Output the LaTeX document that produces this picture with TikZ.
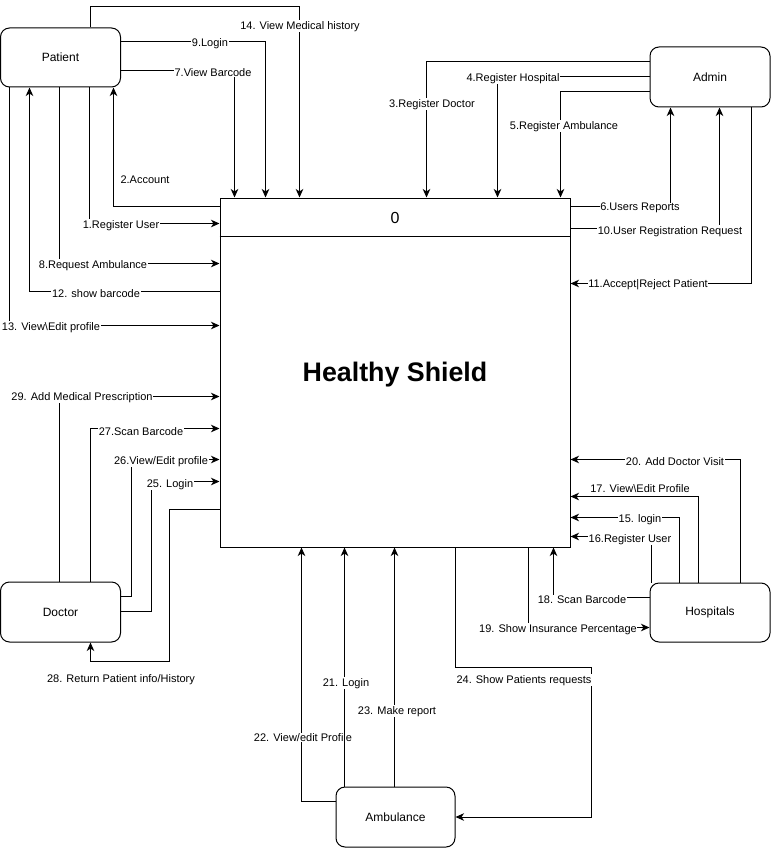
\documentclass[tikz,border=0pt]{standalone}
\usepackage{fontspec}
\setmainfont{Liberation Sans}
\usetikzlibrary{arrows.meta,calc}
\begin{document}
\begin{tikzpicture}[x=1pt,y=-1pt,
  ent/.style={draw, line width=1pt, rounded corners=9pt, minimum width=120pt, minimum height=60pt, inner sep=0pt, font=\fontsize{12pt}{14pt}\selectfont},
  flow/.style={line width=1pt, -{Stealth[length=8.5pt,width=7.5pt,inset=2.5pt]}},
  plain/.style={line width=1pt},
  lbl/.style={fill=white, inner sep=0.6pt, yshift=-1.2pt, font=\fontsize{11pt}{13pt}\selectfont}
]
\useasboundingbox (0,0) rectangle (771,848);

% main process
\node[draw, line width=1pt, minimum width=350pt, minimum height=349pt, inner sep=0pt] (main) at (395,372.5) {};
\draw[plain] ($(main.north west)+(0,39)$) -- ($(main.north east)+(0,39)$);
\node[font=\fontsize{16pt}{18pt}\selectfont] (zero) at (395,217.5) {0};
\node[font=\bfseries\fontsize{26.8pt}{30pt}\selectfont] (title) at (395,374.5) {Healthy Shield};

% entities
\node[ent, minimum height=59pt, text depth=0pt] (patient) at (60.5,57.5) {Patient};
\node[ent] (admin) at (710,77) {Admin};
\node[ent, minimum height=59pt] (hosp) at (710,612.5) {Hospitals};
\node[ent, minimum width=119pt] (amb) at (395.5,817) {Ambulance};
\node[ent] (doctor) at (60.5,612) {Doctor};

% Patient flows
\draw[flow] ($(patient.north west)+(90,0)$) -- ++(0,-21) -| ($(main.north west)+(80,0)$);
\node[lbl] (l14) at (300,25) {14. View Medical history};
\draw[flow] ($(patient.north east)+(0,14)$) -| ($(main.north west)+(46,0)$);
\node[lbl] (l9) at (210,42) {9.Login};
\draw[flow] ($(patient.north east)+(0,43)$) -| ($(main.north west)+(15,0)$);
\node[lbl] (l7) at (213,71) {7.View Barcode};
\draw[flow] ($(main.north west)+(0,9)$) -| ($(patient.south west)+(113.5,0)$);
\node[lbl] (l2) at (145,179) {2.Account};
\draw[flow] ($(patient.south west)+(89.5,0)$) |- ($(main.north west)+(0,26)$);
\node[lbl] (l1) at (121,224) {1.Register User};
\draw[flow] ($(patient.south west)+(59.5,0)$) |- ($(main.north west)+(0,66)$);
\node[lbl] (l8) at (93,264) {8.Request Ambulance};
\draw[flow] ($(main.north west)+(0,94)$) -| ($(patient.south west)+(29.5,0)$);
\node[lbl] (l12) at (96,292) {12. show barcode};
\draw[flow] ($(patient.south west)+(9.5,0)$) |- ($(main.north west)+(0,128)$);
\node[lbl] (l13) at (51,326) {13. View\textbackslash Edit profile};

% Admin flows
\draw[flow] ($(admin.north west)+(0,15)$) -| ($(main.north west)+(207,0)$);
\node[lbl] (l3) at (432,103) {3.Register Doctor};
\draw[flow] ($(admin.north west)+(0,30)$) -| ($(main.north west)+(278,0)$);
\node[lbl] (l4) at (513,77) {4.Register Hospital};
\draw[flow] ($(admin.north west)+(0,45)$) -| ($(main.north west)+(341,0)$);
\node[lbl] (l5) at (564,125) {5.Register Ambulance};
\draw[flow] ($(main.north east)+(0,9)$) -| ($(admin.south west)+(21,0)$);
\node[lbl] (l6) at (640,207) {6.Users Reports};
\draw[flow] ($(main.north east)+(0,31)$) -| ($(admin.south west)+(70,0)$);
\node[lbl] (l10) at (670,230) {10.User Registration Request};
\draw[flow] ($(admin.south west)+(102,0)$) |- ($(main.north east)+(0,86)$);
\node[lbl] (l11) at (648,283) {11.Accept|Reject Patient};

% Hospital flows
\draw[flow] ($(hosp.north west)+(91,0)$) |- ($(main.north east)+(0,262)$);
\node[lbl] (l20) at (675,460) {20. Add Doctor Visit};
\draw[flow] ($(hosp.north west)+(49,0)$) |- ($(main.north east)+(0,299)$);
\node[lbl] (l17) at (640,487) {17. View\textbackslash Edit Profile};
\draw[flow] ($(hosp.north west)+(30,0)$) |- ($(main.north east)+(0,320)$);
\node[lbl] (l15) at (640,518) {15. login};
\draw[flow] ($(hosp.north west)+(1.5,0)$) |- ($(main.north east)+(0,339)$);
\node[lbl] (l16) at (630,538) {16.Register User};
\draw[flow] ($(hosp.north west)+(0,15)$) -| ($(main.south west)+(334,0)$);
\node[lbl] (l18) at (582,598) {18. Scan Barcode};
\draw[flow] ($(main.south west)+(309,0)$) |- ($(hosp.north west)+(0,45)$);
\node[lbl] (l19) at (558,628) {19. Show Insurance Percentage};
\draw[flow] ($(main.south west)+(236,0)$) -- ++(0,120) -| ($(amb.east)+(136,0)$) -- (amb.east);
\node[lbl] (l24) at (524,679) {24. Show Patients requests};

% Ambulance flows
\draw[flow] ($(amb.north west)+(0,15)$) -| ($(main.south west)+(82,0)$);
\node[lbl] (l22) at (303,736) {22. View/edit Profile};
\draw[flow] ($(amb.north west)+(9,0)$) -- ($(main.south west)+(125,0)$);
\node[lbl] (l21) at (346,682) {21. Login};
\draw[flow] ($(amb.north west)+(59,0)$) -- ($(main.south west)+(175,0)$);
\node[lbl] (l23) at (397,710) {23. Make report};

% Doctor flows
\draw[flow] ($(doctor.north west)+(59.5,0)$) |- ($(main.north west)+(0,199)$);
\node[lbl] (l29) at (82,396) {29. Add Medical Prescription};
\draw[flow] ($(doctor.north west)+(90.5,0)$) |- ($(main.north west)+(0,231)$);
\node[lbl] (l27) at (141,430) {27.Scan Barcode};
\draw[flow] ($(doctor.north east)+(0,15)$) -- ++(10,0) |- ($(main.north west)+(0,262)$);
\node[lbl] (l26) at (161,460) {26.View/Edit profile};
\draw[flow] ($(doctor.north east)+(0,30)$) -- ++(30,0) |- ($(main.north west)+(0,284)$);
\node[lbl] (l25) at (170,483) {25. Login};
\draw[flow] ($(main.north west)+(0,312)$) -- ++(-50,0) -- ++(0,152) -| ($(doctor.south west)+(90.5,0)$);
\node[lbl] (l28) at (121,678) {28. Return Patient info/History};
\end{tikzpicture}
\end{document}
